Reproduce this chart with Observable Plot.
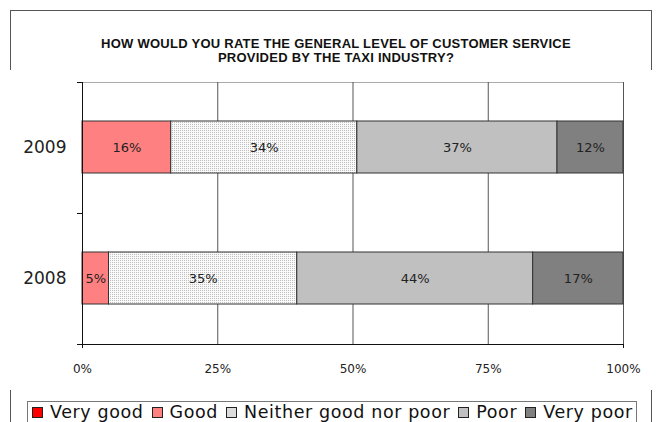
<!DOCTYPE html>
<html>
<head>
<meta charset="utf-8">
<script src="https://cdn.jsdelivr.net/npm/d3@7"></script>
<script src="https://cdn.jsdelivr.net/npm/@observablehq/plot@0.6"></script>
<style>
  html, body { margin: 0; padding: 0; background: #fff; overflow: hidden; }
  body { width: 659px; height: 422px; position: relative; font-family: "DejaVu Sans", sans-serif; }
  #frame { position: absolute; left: 10px; top: 10px; width: 642px; height: 430px; border: 1px solid #555; box-sizing: border-box; }
  #title { position: absolute; left: 0; top: 37px; width: 672px; text-align: center;
           font-family: "Liberation Sans", Arial, sans-serif; font-weight: bold; font-size: 13px; line-height: 13.5px; letter-spacing: 0.25px; color: #111; }
  #chart { position: absolute; left: 0; top: 70px; }
  #legend { position: absolute; left: 27px; top: 401px; width: 610px; height: 40px; border: 1px solid #777; box-sizing: border-box;
            font-size: 17.5px; line-height: 19px; color: #111; padding: 1px 0 0 4px; white-space: nowrap; font-family: "DejaVu Sans", sans-serif; letter-spacing: 0.6px; }
  .item { display: inline-block; margin-right: 8px; }
  .sw { display: inline-block; width: 9px; height: 9px; border: 1px solid #222; margin-right: 7px; vertical-align: 0px; }
</style>
</head>
<body>
<div id="frame"></div>
<div id="title">HOW WOULD YOU RATE THE GENERAL LEVEL OF CUSTOMER SERVICE<br>PROVIDED BY THE TAXI INDUSTRY?</div>
<div id="chart"></div>
<div id="legend"></div>
<script>
const years = ["2009", "2008"];
const categories = ["Very good", "Good", "Neither good nor poor", "Poor", "Very poor"];
const values2009 = [0, 16.4, 34.4, 37.0, 12.2];
const values2008 = [0, 4.9, 34.8, 43.6, 16.7];
const labels2009 = ["", "16%", "34%", "37%", "12%"];
const labels2008 = ["", "5%", "35%", "44%", "17%"];
const xTicks = [0, 25, 50, 75, 100];
const xTickLabels = ["0%", "25%", "50%", "75%", "100%"];
const colors = ["#FF0000", "#FF8080", "url(#dots)", "#C0C0C0", "#808080"];

const rows = [];
years.forEach((yr, yi) => {
  const vals = yi === 0 ? values2009 : values2008;
  const labs = yi === 0 ? labels2009 : labels2008;
  categories.forEach((c, ci) => rows.push({year: yr, category: c, value: vals[ci], label: labs[ci]}));
});
const nonzero = rows.filter(d => d.value > 0);

const W = 659, H = 320;
const plot = Plot.plot({
  width: W, height: H,
  marginLeft: 82, marginRight: 36, marginTop: 12, marginBottom: 46,
  style: {fontFamily: "DejaVu Sans, sans-serif", background: "white", overflow: "visible"},
  x: {domain: [0, 100], ticks: xTicks, label: null},
  y: {domain: years, paddingInner: 0.6, paddingOuter: 0.3, label: null},
  color: {domain: categories, range: colors},
  marks: [
    Plot.frame({stroke: "#aaa"}),
    Plot.gridX(xTicks.filter(t => t > 0), {stroke: "#555", strokeOpacity: 1}),
    Plot.barX(nonzero, Plot.stackX({x: "value", y: "year", fill: "category", order: categories, stroke: "#333", strokeWidth: 1})),
    Plot.text(nonzero, Plot.stackX({x: "value", y: "year", z: "category", order: categories, text: "label", fontSize: 13, fill: "#222"})),
    Plot.frame({anchor: "left", stroke: "#111"}),
    Plot.frame({anchor: "bottom", stroke: "#111"}),
    Plot.axisX({ticks: [xTicks[0], xTicks[xTicks.length - 1]], tickSize: 4, tickFormat: () => "", stroke: "#111", label: null}),
    Plot.axisX({ticks: xTicks, tickSize: 0, tickPadding: 20, tickFormat: d => xTickLabels[xTicks.indexOf(d)], fontSize: 12, fill: "#222", label: null}),
    Plot.axisY({tickSize: 0, tickPadding: 16, fontSize: 17, fill: "#222", label: null})
  ]
});
document.getElementById("chart").appendChild(plot);

// dotted pattern for "Neither good nor poor"
const svg = d3.select(plot);
const defs = svg.insert("defs", ":first-child");
const pat = defs.append("pattern").attr("id", "dots").attr("width", 2).attr("height", 2).attr("patternUnits", "userSpaceOnUse");
pat.append("rect").attr("width", 2).attr("height", 2).attr("fill", "#fafafa");
pat.append("rect").attr("width", 1).attr("height", 1).attr("fill", "#bdbdbd");

// y-axis tick marks at category boundaries, from the band scale
const ys = plot.scale("y");
const gap = (ys.step - ys.bandwidth) / 2;
const bounds = years.map(y => ys.apply(y) - gap).concat([ys.apply(years[years.length - 1]) + ys.bandwidth + gap]);
const x0 = plot.scale("x").apply(0);
svg.append("g").selectAll("line").data(bounds).join("line")
  .attr("x1", x0 - 5).attr("x2", x0).attr("y1", d => Math.round(d) + 0.5).attr("y2", d => Math.round(d) + 0.5)
  .attr("stroke", "#111");

// legend
const leg = document.getElementById("legend");
categories.forEach((c, i) => {
  const it = document.createElement("span");
  it.className = "item";
  const sw = document.createElement("span");
  sw.className = "sw";
  if (colors[i].startsWith("url")) {
    sw.style.background = "radial-gradient(circle, #bbb 0.6px, #fafafa 0.8px) 0 0 / 2px 2px";
  } else sw.style.background = colors[i];
  it.appendChild(sw);
  it.appendChild(document.createTextNode(c));
  leg.appendChild(it);
});
</script>
</body>
</html>
